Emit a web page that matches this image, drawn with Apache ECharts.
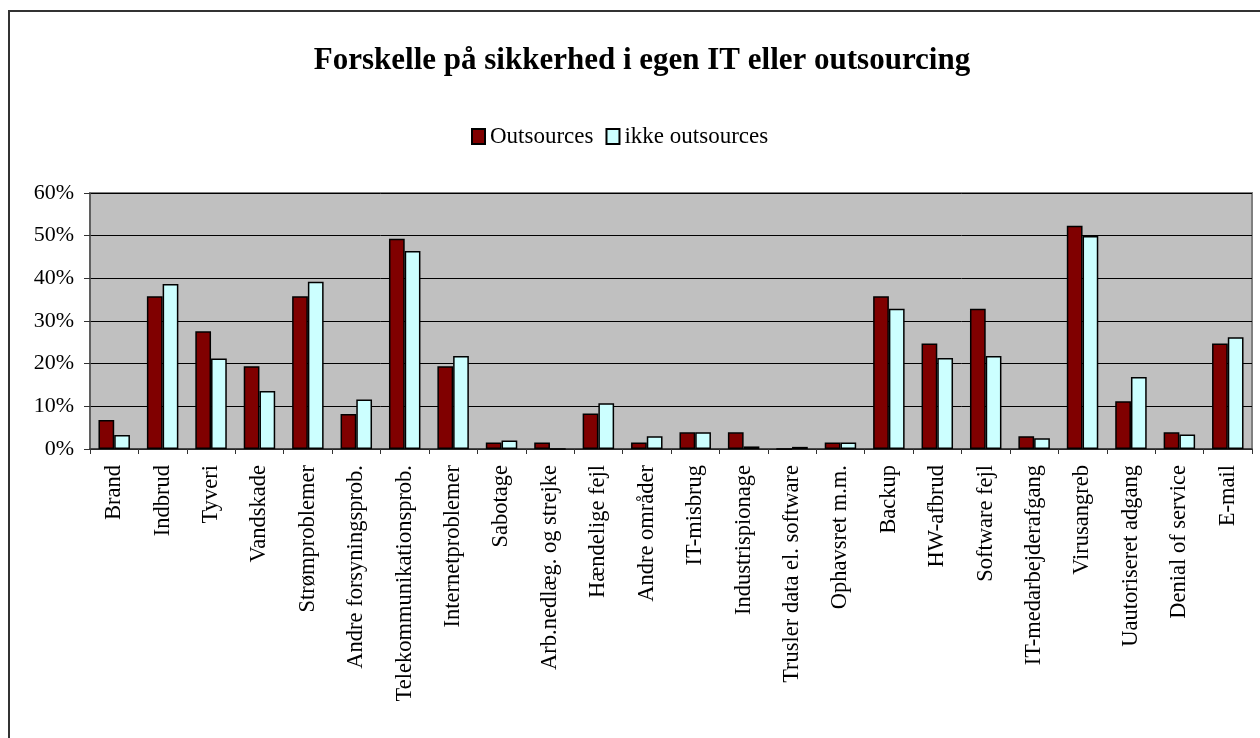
<!DOCTYPE html>
<html>
<head>
<meta charset="utf-8">
<script src="https://cdn.jsdelivr.net/npm/echarts@6/dist/echarts.min.js"></script>
<style>
html,body{margin:0;padding:0;background:#fff;}
#chart{width:1260px;height:738px;}
</style>
</head>
<body>
<div id="chart"></div>
<script>
var titleText = 'Forskelle på sikkerhed i egen IT eller outsourcing';
var categories = ['Brand','Indbrud','Tyveri','Vandskade','Strømproblemer','Andre forsyningsprob.','Telekommunikationsprob.','Internetproblemer','Sabotage','Arb.nedlæg. og strejke','Hændelige fejl','Andre områder','IT-misbrug','Industrispionage','Trusler data el. software','Ophavsret m.m.','Backup','HW-afbrud','Software fejl','IT-medarbejderafgang','Virusangreb','Uautoriseret adgang','Denial of service','E-mail'];
var seriesNames = ['Outsources','ikke outsources'];
var outsources = [6.8,35.8,27.6,19.4,35.8,8.2,49.3,19.4,1.5,1.5,8.3,1.5,3.9,3.9,0,1.5,35.8,24.7,32.9,3.0,52.3,11.2,3.9,24.7];
var ikkeOutsources = [3.3,38.7,21.2,13.6,39.2,11.6,46.4,21.8,2.0,0,10.7,3.0,3.9,0.6,0.5,1.5,32.9,21.3,21.8,2.5,49.9,16.9,3.4,26.2];
var yTicks = [0,10,20,30,40,50,60];

var font = '"Liberation Serif", "Times New Roman", serif';
var chart = echarts.init(document.getElementById('chart'));
chart.setOption({
  animation:false,
  backgroundColor:'#ffffff',
  graphic:[{type:'rect',shape:{x:9,y:11,width:1400,height:900},style:{fill:'none',stroke:'#333333',lineWidth:2},z:-1}],
  title:{text:titleText,left:637,textAlign:'center',top:40,textStyle:{fontFamily:font,fontSize:31,fontWeight:'bold',color:'#000'}},
  legend:{data:seriesNames,left:466,top:120,icon:'rect',itemWidth:13,itemHeight:15,itemGap:12,
    textStyle:{fontFamily:font,fontSize:23,color:'#000'}},
  grid:{left:90,right:8,top:193,bottom:289,show:true,backgroundColor:'#c0c0c0',borderColor:'#808080',borderWidth:2},
  xAxis:{type:'category',data:categories,
    axisLine:{lineStyle:{color:'#333',width:1.5}},
    axisTick:{show:true,length:5,lineStyle:{color:'#333'},alignWithLabel:false},
    axisLabel:{rotate:90,interval:0,margin:16,fontFamily:font,fontSize:22.5,color:'#000'}},
  yAxis:{type:'value',min:0,max:60,interval:10,
    axisLine:{show:true,lineStyle:{color:'#555',width:1.5}},
    axisTick:{show:true,length:6,lineStyle:{color:'#333'}},
    splitLine:{lineStyle:{color:'#000',width:1}},
    axisLabel:{margin:16,fontFamily:font,fontSize:22,color:'#000',formatter:function(v){return v+'%';}}},
  series:[
    {name:seriesNames[0],type:'bar',data:outsources,barGap:'0%',barCategoryGap:'35%',
     itemStyle:{color:'#800000',borderColor:'#000',borderWidth:1.5}},
    {name:seriesNames[1],type:'bar',data:ikkeOutsources,
     itemStyle:{color:'#ccffff',borderColor:'#000',borderWidth:1.5}}
  ]
});
</script>
</body>
</html>
